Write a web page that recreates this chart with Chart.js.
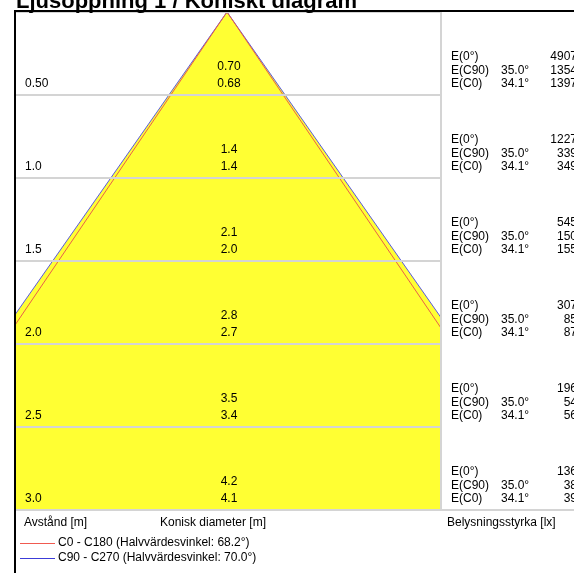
<!DOCTYPE html>
<html>
<head>
<meta charset="utf-8">
<script src="https://cdn.jsdelivr.net/npm/chart.js@4.4.1/dist/chart.umd.min.js"></script>
<style>
  html, body { margin: 0; padding: 0; background: #fff; }
  #wrap { width: 574px; height: 573px; }
</style>
</head>
<body>
<div id="wrap"><canvas id="coneChart" width="574" height="573"></canvas></div>
<script>
// distances [m] and their row labels
var distances = [0.5, 1.0, 1.5, 2.0, 2.5, 3.0];
var distLabels = ["0.50", "1.0", "1.5", "2.0", "2.5", "3.0"];
// conical diameter [m]
var diamC90 = ["0.70", "1.4", "2.1", "2.8", "3.5", "4.2"];
var diamC0 = ["0.68", "1.4", "2.0", "2.7", "3.4", "4.1"];
// illuminance [lx]
var luxE0 = [4907, 1227, 545, 307, 196, 136];
var luxC90 = [1354, 339, 150, 85, 54, 38];
var luxC0 = [1397, 349, 155, 87, 56, 39];
// half angles of the cone [deg]
var halfAngleC90 = 35.0;
var halfAngleC0 = 34.1;
var beamAngleC0 = "68.2";
var beamAngleC90 = "70.0";

var maxDist = distances[distances.length - 1];

var coneEdge = function(angle){
	var w = maxDist * Math.tan(angle * Math.PI / 180);
	return [{x: -w, y: maxDist}, {x: 0, y: 0}, {x: w, y: maxDist}];
};

var FONT = "'Liberation Sans', Arial, sans-serif";

var textPlugin = {
	id: "coneText",
	afterDraw: function(chart){
		var ctx = chart.ctx;
		var ys = chart.scales.y;
		var area = chart.chartArea;
		ctx.save();

		// frame
		ctx.strokeStyle = "#d4d4d4";
		ctx.lineWidth = 2;
		ctx.beginPath();
		ctx.moveTo(area.right, area.top);
		ctx.lineTo(area.right, area.bottom);
		ctx.moveTo(area.left, area.bottom);
		ctx.lineTo(574, area.bottom);
		ctx.stroke();
		ctx.strokeStyle = "#000";
		ctx.beginPath();
		ctx.moveTo(15, 11);
		ctx.lineTo(574, 11);
		ctx.moveTo(15, 10);
		ctx.lineTo(15, 573);
		ctx.stroke();

		// title
		ctx.fillStyle = "#000";
		ctx.font = "bold 22px " + FONT;
		ctx.textBaseline = "alphabetic";
		ctx.textAlign = "left";
		ctx.fillText("Ljusöppning 1 / Koniskt diagram", 16, 8);

		ctx.font = "12px " + FONT;
		ctx.textBaseline = "middle";
		var cx = chart.scales.x.getPixelForValue(0) + 2;
		for (var i = 0; i < distances.length; i++) {
			var rowY = ys.getPixelForValue(distances[i]) - 11;
			ctx.textAlign = "center";
			ctx.fillText(diamC90[i], cx, rowY - 17);
			ctx.fillText(diamC0[i], cx, rowY);

			ctx.textAlign = "left";
			ctx.fillText("E(0°)", 451, rowY - 27);
			ctx.fillText("E(C90)", 451, rowY - 13.5);
			ctx.fillText("E(C0)", 451, rowY);
			ctx.fillText(halfAngleC90.toFixed(1) + "°", 501, rowY - 13.5);
			ctx.fillText(halfAngleC0.toFixed(1) + "°", 501, rowY);
			ctx.textAlign = "right";
			ctx.fillText(String(luxE0[i]), 577, rowY - 27);
			ctx.fillText(String(luxC90[i]), 577, rowY - 13.5);
			ctx.fillText(String(luxC0[i]), 577, rowY);
		}

		// legend
		ctx.textAlign = "left";
		ctx.fillText("Avstånd [m]", 24, 523);
		ctx.fillText("Konisk diameter [m]", 160, 523);
		ctx.fillText("Belysningsstyrka [lx]", 447, 523);
		ctx.lineWidth = 1;
		ctx.strokeStyle = "#f05a50";
		ctx.beginPath();
		ctx.moveTo(20, 543.5);
		ctx.lineTo(55, 543.5);
		ctx.stroke();
		ctx.strokeStyle = "#3c3cd8";
		ctx.beginPath();
		ctx.moveTo(20, 558.5);
		ctx.lineTo(55, 558.5);
		ctx.stroke();
		ctx.fillText("C0 - C180 (Halvvärdesvinkel: " + beamAngleC0 + "°)", 58, 543);
		ctx.fillText("C90 - C270 (Halvvärdesvinkel: " + beamAngleC90 + "°)", 58, 558);
		ctx.restore();
	}
};

var chart = new Chart(document.getElementById("coneChart").getContext("2d"), {
	type: "scatter",
	data: {
		datasets: [
			{
				label: "C90 - C270",
				data: coneEdge(halfAngleC90),
				showLine: true,
				pointRadius: 0,
				borderColor: "#5a5ae0",
				borderWidth: 1,
				backgroundColor: "#ffff33",
				fill: {value: maxDist},
				order: 2
			},
			{
				label: "C0 - C180",
				data: coneEdge(halfAngleC0),
				showLine: true,
				pointRadius: 0,
				borderColor: "#e8604a",
				borderWidth: 1,
				fill: false,
				order: 1
			}
		]
	},
	options: {
		responsive: false,
		animation: false,
		layout: {padding: {left: 16, top: 12, right: 133, bottom: 63}},
		plugins: {legend: {display: false}, tooltip: {enabled: false}},
		scales: {
			x: {type: "linear", display: false, min: -1.271, max: 1.289},
			y: {
				type: "linear",
				reverse: true,
				min: 0,
				max: maxDist,
				border: {display: false},
				grid: {color: "#d4d4d4", lineWidth: 2, drawTicks: false, z: 1},
				afterFit: function(s){
					s.width = 0;
					s.paddingTop = 0;
					s.paddingBottom = 0;
				},
				afterBuildTicks: function(s){
					s.ticks = [{value: 0}].concat(distances.map(function(d){ return {value: d}; }));
				},
				ticks: {
					mirror: true,
					padding: 9,
					labelOffset: -11,
					color: "#000",
					z: 2,
					font: {family: FONT, size: 12},
					callback: function(v){
						var i = distances.indexOf(v);
						return i < 0 ? "" : distLabels[i];
					}
				}
			}
		}
	},
	plugins: [textPlugin]
});
</script>
</body>
</html>
